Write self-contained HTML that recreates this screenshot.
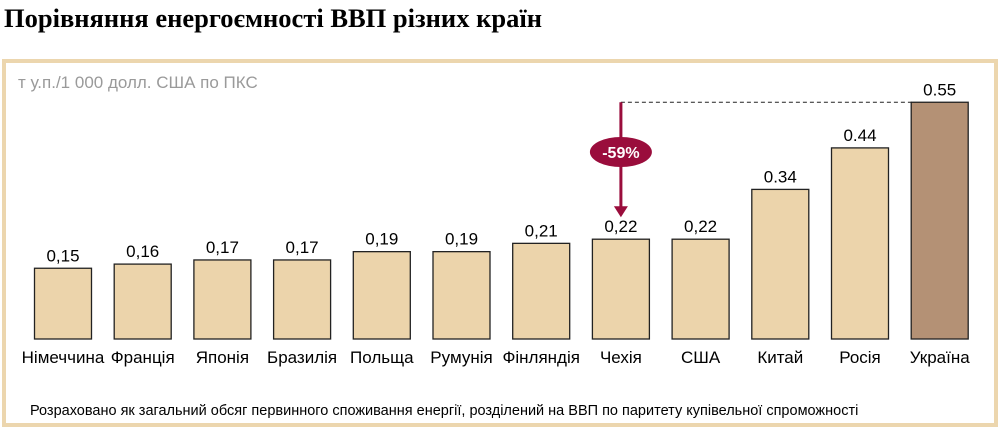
<!DOCTYPE html>
<html><head><meta charset="utf-8"><style>
body{margin:0;width:1000px;height:431px;background:#fff;overflow:hidden;font-family:"Liberation Sans",sans-serif}
</style></head><body>
<svg width="1000" height="431">
<text x="4" y="27" font-family="Liberation Serif" font-weight="bold" font-size="26.5" fill="#000">Порівняння енергоємності ВВП різних країн</text>
<rect x="4" y="61" width="992" height="364" fill="none" stroke="#ecd6ae" stroke-width="4"/>
<text x="18" y="88" font-size="17" fill="#9a9a9a">т у.п./1 000 долл. США по ПКС</text>
<g id="bars"></g>
<text x="30" y="415" font-size="14.5" fill="#000">Розраховано як загальний обсяг первинного споживання енергії, розділений на ВВП по паритету купівельної спроможності</text>
</svg>
<script>
const categories=["Німеччина","Франція","Японія","Бразилія","Польща","Румунія","Фінляндія","Чехія","США","Китай","Росія","Україна"];
const values=[0.15,0.16,0.17,0.17,0.19,0.19,0.21,0.22,0.22,0.34,0.44,0.55];
const valueLabels=["0,15","0,16","0,17","0,17","0,19","0,19","0,21","0,22","0,22","0.34","0.44","0.55"];
const ns="http://www.w3.org/2000/svg";
const g=document.getElementById("bars");
const base=339;
const y=v=>330.5-415*v;
const x=i=>63+i*79.7;
function mk(t,a){const e=document.createElementNS(ns,t);for(const k in a)e.setAttribute(k,a[k]);g.appendChild(e);return e;}
categories.forEach((c,i)=>{
 const r=mk("rect",{x:x(i)-28.5,y:y(values[i]),width:57,height:base-y(values[i]),fill:i==11?"#b49175":"#ecd4ab",stroke:"#222","stroke-width":1.3});
 
 
 const v=mk("text",{x:x(i),y:y(values[i])-7,"text-anchor":"middle","font-size":17,fill:"#000"});v.textContent=valueLabels[i];
 
 
 const l=mk("text",{x:x(i),y:363,"text-anchor":"middle","font-size":17,fill:"#000"});l.textContent=c;
 
 
});
const ax=x(7), yt=y(values[11]), yb=y(values[7])-24;
const d=mk("line",{x1:ax,y1:yt,x2:x(11)-28,y2:yt,stroke:"#222","stroke-dasharray":"4,3","stroke-width":1});


const ar=mk("line",{x1:ax,y1:yt,x2:ax,y2:yb-8,stroke:"#9a0d3c","stroke-width":3});


const ah=mk("polygon",{points:`${ax-7},${yb-9} ${ax+7},${yb-9} ${ax},${yb+2}`,fill:"#9a0d3c"});


const el=mk("ellipse",{cx:ax,cy:152,rx:31,ry:15,fill:"#9a0d3c"});


const pt=mk("text",{x:ax,y:158,"text-anchor":"middle","font-size":16,"font-weight":"bold",fill:"#fff"});pt.textContent="-59%";


</script>
</body></html>
